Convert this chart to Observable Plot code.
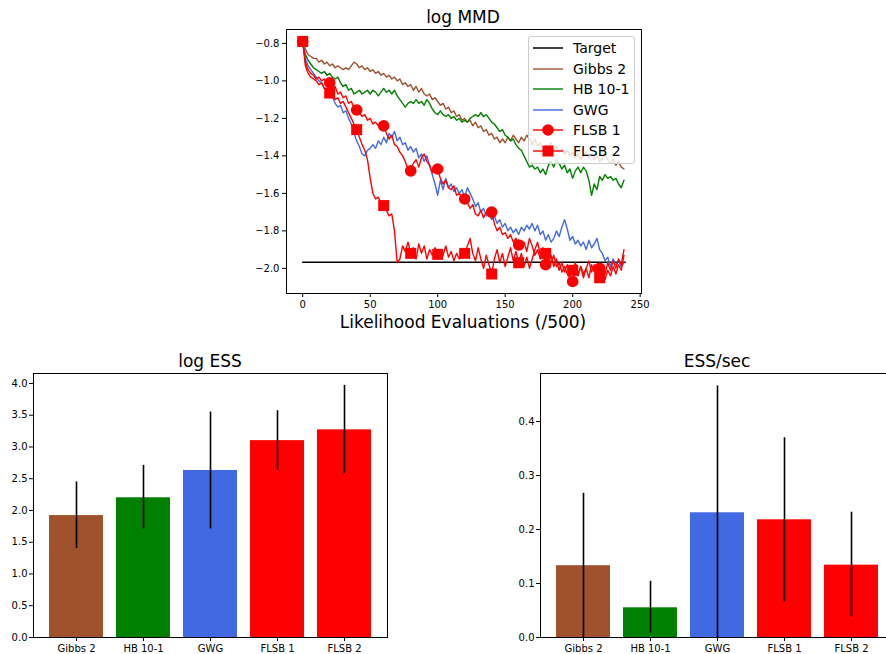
<!DOCTYPE html>
<html><head><meta charset="utf-8">
<script src="https://cdn.jsdelivr.net/npm/d3@7"></script>
<script src="https://cdn.jsdelivr.net/npm/@observablehq/plot@0.6"></script>
<style>
html,body{margin:0;padding:0;background:#fff;overflow:hidden;}
#root{position:relative;width:886px;height:654px;overflow:hidden;font-family:"DejaVu Sans",sans-serif;color:#000;}
.layer{position:absolute;}
.title{position:absolute;font-size:17px;transform:translate(-50%,-50%);white-space:nowrap;}
.legend{position:absolute;box-sizing:border-box;border:1px solid #cccccc;border-radius:3px;background:rgba(255,255,255,0.8);padding:1px 6px 2px 4px;}
.legend .row{display:flex;align-items:center;height:20.5px;font-size:14px;white-space:nowrap;}
.legend svg{margin-right:10px;flex:none;}
</style></head><body><div id="root"></div>
<script>
// ---------- DATA ----------
const seriesNames = ["Target", "Gibbs 2", "HB 10-1", "GWG", "FLSB 1", "FLSB 2"];
const seriesColors = ["#000000", "#a0522d", "#008000", "#4169e1", "#ff0000", "#ff0000"];
const seriesMarkers = [null, null, null, null, "circle", "square"];
const xTicks = [0, 50, 100, 150, 200, 250];
const yTicksMMD = [-2.0, -1.8, -1.6, -1.4, -1.2, -1.0, -0.8];
const targetValue = -1.967;
const targetRange = [0, 239];
const markEvery = 20;
// likelihood evaluations (/500), every 2nd step
const evals = d3.range(0, 240, 2);

const gibbs2 = [-0.79,-0.83,-0.86,-0.87,-0.88,-0.88,-0.90,-0.89,-0.91,-0.90,-0.92,-0.91,-0.93,-0.92,-0.93,-0.94,-0.93,-0.94,-0.92,-0.90,
-0.91,-0.93,-0.92,-0.94,-0.93,-0.95,-0.94,-0.96,-0.95,-0.97,-0.96,-0.98,-0.97,-0.99,-0.98,-1.00,-0.99,-1.02,-1.01,-1.03,
-1.02,-1.05,-1.03,-1.06,-1.04,-1.07,-1.08,-1.07,-1.10,-1.09,-1.11,-1.13,-1.12,-1.15,-1.14,-1.17,-1.16,-1.19,-1.18,-1.21,
-1.20,-1.22,-1.21,-1.24,-1.22,-1.25,-1.24,-1.27,-1.26,-1.29,-1.28,-1.31,-1.30,-1.33,-1.31,-1.33,-1.30,-1.32,-1.29,-1.31,
-1.33,-1.30,-1.32,-1.29,-1.31,-1.34,-1.31,-1.35,-1.33,-1.37,-1.34,-1.36,-1.33,-1.37,-1.35,-1.38,-1.36,-1.39,-1.37,-1.40,
-1.38,-1.41,-1.39,-1.42,-1.40,-1.38,-1.41,-1.39,-1.42,-1.40,-1.43,-1.41,-1.39,-1.42,-1.44,-1.42,-1.45,-1.43,-1.46,-1.47];

const hb101 = [-0.79,-0.86,-0.89,-0.91,-0.93,-0.94,-0.95,-0.96,-0.95,-0.97,-0.96,-0.98,-0.99,-0.98,-1.01,-1.03,-1.02,-1.05,-1.04,-1.07,
-1.06,-1.05,-1.07,-1.06,-1.05,-1.07,-1.05,-1.06,-1.08,-1.06,-1.04,-1.06,-1.05,-1.07,-1.05,-1.08,-1.10,-1.12,-1.14,-1.12,
-1.11,-1.12,-1.10,-1.12,-1.11,-1.13,-1.10,-1.12,-1.15,-1.17,-1.18,-1.16,-1.18,-1.19,-1.18,-1.20,-1.19,-1.21,-1.20,-1.22,
-1.21,-1.22,-1.20,-1.19,-1.18,-1.19,-1.17,-1.19,-1.18,-1.20,-1.22,-1.23,-1.25,-1.27,-1.26,-1.29,-1.30,-1.32,-1.31,-1.34,
-1.36,-1.37,-1.40,-1.43,-1.46,-1.45,-1.47,-1.46,-1.49,-1.47,-1.50,-1.45,-1.43,-1.46,-1.42,-1.44,-1.47,-1.45,-1.49,-1.47,
-1.52,-1.48,-1.46,-1.49,-1.46,-1.48,-1.53,-1.61,-1.55,-1.58,-1.51,-1.53,-1.50,-1.52,-1.51,-1.53,-1.52,-1.55,-1.57,-1.53];

const gwg = [-0.79,-0.88,-0.92,-0.94,-0.96,-0.98,-1.00,-1.01,-1.04,-1.06,-1.09,-1.08,-1.12,-1.14,-1.13,-1.17,-1.16,-1.20,-1.23,-1.28,
-1.32,-1.35,-1.39,-1.40,-1.37,-1.36,-1.34,-1.36,-1.32,-1.34,-1.30,-1.33,-1.28,-1.30,-1.27,-1.32,-1.30,-1.34,-1.33,-1.37,
-1.35,-1.38,-1.36,-1.41,-1.39,-1.43,-1.40,-1.45,-1.50,-1.55,-1.61,-1.53,-1.58,-1.52,-1.57,-1.55,-1.59,-1.57,-1.60,-1.58,
-1.62,-1.57,-1.60,-1.63,-1.67,-1.65,-1.70,-1.68,-1.72,-1.71,-1.74,-1.72,-1.76,-1.74,-1.78,-1.76,-1.80,-1.78,-1.81,-1.79,
-1.82,-1.78,-1.80,-1.77,-1.79,-1.76,-1.80,-1.77,-1.82,-1.80,-1.85,-1.82,-1.86,-1.84,-1.80,-1.83,-1.78,-1.74,-1.79,-1.85,
-1.83,-1.87,-1.85,-1.88,-1.86,-1.90,-1.85,-1.89,-1.87,-1.84,-1.90,-1.92,-1.96,-1.94,-1.99,-1.95,-1.98,-1.96,-1.99,-1.97];

const flsb1 = [-0.79,-0.90,-0.94,-0.96,-0.97,-0.99,-0.98,-1.00,-0.99,-1.01,-1.01,-1.04,-1.03,-1.07,-1.06,-1.09,-1.08,-1.12,-1.11,-1.14,
-1.155,-1.17,-1.19,-1.18,-1.21,-1.20,-1.23,-1.22,-1.24,-1.23,-1.24,-1.28,-1.31,-1.29,-1.34,-1.35,-1.38,-1.40,-1.43,-1.47,
-1.48,-1.44,-1.42,-1.46,-1.41,-1.39,-1.43,-1.45,-1.49,-1.46,-1.47,-1.52,-1.55,-1.53,-1.57,-1.58,-1.56,-1.61,-1.60,-1.62,
-1.63,-1.65,-1.68,-1.66,-1.71,-1.72,-1.69,-1.73,-1.70,-1.68,-1.70,-1.76,-1.80,-1.78,-1.82,-1.81,-1.84,-1.82,-1.86,-1.84,
-1.875,-1.90,-1.86,-1.91,-1.84,-1.88,-1.93,-1.90,-1.95,-1.92,-1.98,-1.94,-1.97,-1.93,-1.99,-1.97,-2.02,-1.99,-2.03,-2.05,
-2.07,-2.02,-2.04,-1.99,-2.03,-2.00,-2.05,-1.98,-2.02,-1.99,-2.00,-2.04,-2.06,-2.01,-2.04,-1.99,-2.03,-1.98,-2.01,-1.93];

const flsb2 = [-0.79,-0.92,-0.96,-0.98,-0.99,-1.00,-1.02,-1.01,-1.04,-1.05,-1.065,-1.08,-1.10,-1.09,-1.12,-1.11,-1.14,-1.17,-1.20,-1.23,
-1.26,-1.30,-1.34,-1.37,-1.42,-1.52,-1.60,-1.63,-1.62,-1.65,-1.665,-1.69,-1.72,-1.71,-1.80,-1.97,-1.95,-1.88,-1.91,-1.86,
-1.92,-1.89,-1.95,-1.87,-1.92,-1.88,-1.95,-1.90,-1.93,-1.89,-1.925,-1.90,-1.93,-1.88,-1.94,-1.91,-1.96,-1.92,-1.95,-1.90,
-1.92,-1.88,-1.84,-1.92,-1.96,-1.89,-1.95,-2.00,-1.93,-1.98,-2.03,-1.95,-1.90,-1.97,-1.92,-1.99,-1.94,-1.89,-1.96,-1.91,
-1.97,-1.92,-1.99,-1.94,-2.00,-1.95,-1.90,-1.86,-1.93,-1.89,-1.92,-1.97,-1.93,-1.99,-1.95,-2.01,-1.97,-2.02,-1.98,-2.04,
-2.01,-1.97,-2.03,-1.99,-2.05,-2.00,-1.96,-2.02,-1.98,-2.04,-2.05,-1.99,-2.03,-1.97,-2.01,-1.96,-2.00,-1.95,-1.98,-1.90];

const methods = ["Gibbs 2", "HB 10-1", "GWG", "FLSB 1", "FLSB 2"];
const methodColors = ["#a0522d", "#008000", "#4169e1", "#ff0000", "#ff0000"];
const logESS = [1.92, 2.20, 2.63, 3.10, 3.27];
const logESSLow = [1.40, 1.71, 1.71, 2.63, 2.58];
const logESSHigh = [2.45, 2.71, 3.55, 3.57, 3.97];
const yTicksESS = [0, 0.5, 1.0, 1.5, 2.0, 2.5, 3.0, 3.5, 4.0];
const essSec = [0.133, 0.055, 0.231, 0.218, 0.134];
const essSecLow = [0.0, 0.007, 0.0, 0.066, 0.038];
const essSecHigh = [0.267, 0.104, 0.466, 0.370, 0.232];
const yTicksSec = [0, 0.1, 0.2, 0.3, 0.4];

// ---------- BUILD ----------
const root = document.getElementById("root");
const baseStyle = {fontFamily: "DejaVu Sans", fontSize: "10px", color: "#000", background: "transparent", maxWidth: "none", overflow: "visible"};
const fmt1 = d3.format(".1f");

const lineSeries = [gibbs2, hb101, gwg, flsb1, flsb2];
const lineRows = [];
lineSeries.forEach((arr, k) => arr.forEach((v, i) => lineRows.push({name: seriesNames[k + 1], color: seriesColors[k + 1], marker: seriesMarkers[k + 1], t: evals[i], v})));
const targetRows = targetRange.map(t => ({t, v: targetValue}));
const markerRows = lineRows.filter(d => d.marker && d.t % markEvery === 0);

const marks = [Plot.line(targetRows, {x: "t", y: "v", stroke: "#000", strokeWidth: 1.5})];
seriesNames.slice(1).forEach((name, k) => {
  const rows = lineRows.filter(d => d.name === name);
  marks.push(Plot.line(rows, {x: "t", y: "v", stroke: seriesColors[k + 1], strokeWidth: 1.4}));
  if (seriesMarkers[k + 1]) {
    const mk = markerRows.filter(d => d.name === name);
    marks.push(Plot.dot(mk, {x: "t", y: "v", fill: seriesColors[k + 1], stroke: "none", symbol: seriesMarkers[k + 1], r: seriesMarkers[k + 1] === "square" ? 6.2 : 5.8}));
  }
});
marks.push(Plot.frame({stroke: "#000", strokeWidth: 1}));

const topPlot = Plot.plot({
  width: 886, height: 340,
  marginLeft: 286, marginRight: 245, marginTop: 29, marginBottom: 47,
  style: baseStyle,
  x: {domain: [-12, 251], ticks: xTicks, tickFormat: d => String(d), tickSize: 4, tickPadding: 3, label: null},
  y: {domain: [-2.134, -0.726], ticks: yTicksMMD, tickFormat: fmt1, tickSize: 4, tickPadding: 3, label: null},
  marks
});
const topDiv = document.createElement("div");
topDiv.className = "layer"; topDiv.style.left = "0px"; topDiv.style.top = "0px";
topDiv.appendChild(topPlot);
root.appendChild(topDiv);

function barChart(values, lows, highs, ydomain, yticks, width, ml, mr) {
  const rows = methods.map((m, i) => ({m, v: values[i], lo: lows[i], hi: highs[i], c: methodColors[i]}));
  return Plot.plot({
    width, height: 314,
    marginLeft: ml, marginRight: mr, marginTop: 33, marginBottom: 17,
    style: baseStyle,
    x: {type: "band", domain: methods, paddingInner: 0.2, paddingOuter: 0.24, tickSize: 4, tickPadding: 3, label: null},
    y: {domain: ydomain, ticks: yticks, tickFormat: fmt1, tickSize: 4, tickPadding: 2, label: null},
    color: {type: "identity"},
    marks: [
      Plot.barY(rows, {x: "m", y: "v", fill: "c"}),
      Plot.ruleX(rows, {x: "m", y1: "lo", y2: "hi", stroke: "#000", strokeWidth: 1.6}),
      Plot.frame({stroke: "#000", strokeWidth: 1})
    ]
  });
}
const leftPlot = barChart(logESS, logESSLow, logESSHigh, [0, 4.157], yTicksESS, 443, 33, 56);
const rightPlot = barChart(essSec, essSecLow, essSecHigh, [0, 0.489], yTicksSec, 451, 97, 0);
const lDiv = document.createElement("div");
lDiv.className = "layer"; lDiv.style.left = "0px"; lDiv.style.top = "340px";
lDiv.appendChild(leftPlot); root.appendChild(lDiv);
const rDiv = document.createElement("div");
rDiv.className = "layer"; rDiv.style.left = "443px"; rDiv.style.top = "340px";
rDiv.appendChild(rightPlot); root.appendChild(rDiv);

// titles
const titles = [["log MMD", 463, 17], ["Likelihood Evaluations (/500)", 463, 322], ["log ESS", 210, 361], ["ESS/sec", 717, 361]];
titles.forEach(([txt, x, y]) => {
  const d = document.createElement("div");
  d.className = "title"; d.textContent = txt;
  d.style.left = x + "px"; d.style.top = y + "px";
  root.appendChild(d);
});

// legend
const leg = document.createElement("div");
leg.className = "legend";
leg.style.left = "528px"; leg.style.top = "36px"; leg.style.width = "107px";
seriesNames.forEach((name, i) => {
  const row = document.createElement("div");
  row.className = "row";
  const svg = d3.create("svg").attr("width", 30).attr("height", 20);
  svg.append("line").attr("x1", 0).attr("x2", 30).attr("y1", 10).attr("y2", 10).attr("stroke", seriesColors[i]).attr("stroke-width", i === 0 ? 1.5 : 1.4);
  if (seriesMarkers[i] === "circle") svg.append("circle").attr("cx", 15).attr("cy", 10).attr("r", 5.8).attr("fill", seriesColors[i]);
  if (seriesMarkers[i] === "square") svg.append("rect").attr("x", 9.5).attr("y", 4.5).attr("width", 11).attr("height", 11).attr("fill", seriesColors[i]);
  row.appendChild(svg.node());
  const span = document.createElement("span");
  span.textContent = name;
  row.appendChild(span);
  leg.appendChild(row);
});
root.appendChild(leg);
</script></body></html>
